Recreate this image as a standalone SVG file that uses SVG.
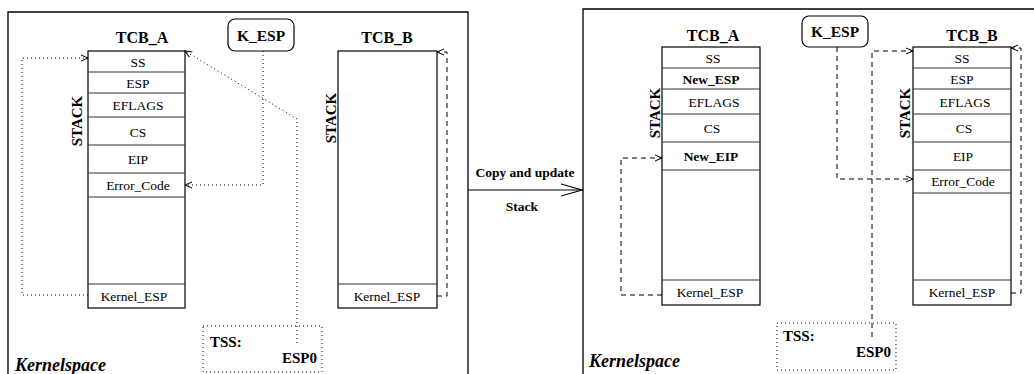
<svg xmlns="http://www.w3.org/2000/svg" width="1034" height="374" viewBox="0 0 1034 374" font-family="'Liberation Serif', 'DejaVu Serif', 'Times New Roman', serif">
<style>
text{font-family:'Liberation Serif','DejaVu Serif','Times New Roman',serif;fill:#000}
.row{font-size:13.5px;text-anchor:middle}
.rowb{font-size:13.5px;text-anchor:middle;font-weight:bold}
.title{font-size:16px;font-weight:bold;text-anchor:middle}
.stack{font-size:15px;font-weight:bold;text-anchor:middle}
.ks{font-size:18px;font-weight:bold;font-style:italic}
.tss{font-size:15px;font-weight:bold}
.box{fill:#fff;stroke:#000;stroke-width:1.2}
.sep{stroke:#333;stroke-width:1}
.frame{fill:none;stroke:#000;stroke-width:1.3}
.dot{fill:none;stroke:#000;stroke-width:1;stroke-dasharray:1,3}
.dash{fill:none;stroke:#000;stroke-width:1;stroke-dasharray:5,4}
</style>
<defs>
<marker id="h" markerWidth="10" markerHeight="10" refX="7" refY="4" orient="auto" markerUnits="userSpaceOnUse">
<path d="M0,1 L7,4 L0,7" fill="none" stroke="#000" stroke-width="1"/>
</marker>
<marker id="big" markerWidth="24" markerHeight="16" refX="21" refY="7" orient="auto" markerUnits="userSpaceOnUse">
<path d="M0,1 L21,7 L0,13" fill="none" stroke="#000" stroke-width="1.2"/>
</marker>
</defs>

<g id="frames">
<path class="frame" d="M8,374 V12 H468 V374"/>
<path class="frame" d="M583,374 V9 H1034"/>
<text class="ks" x="15" y="371">Kernelspace</text>
<text class="ks" x="589" y="367">Kernelspace</text>
</g>

<g id="left-tcb-a">
<text class="title" x="142" y="43">TCB_A</text>
<rect class="box" x="88" y="51" width="97" height="257"/>
<line class="sep" x1="88" y1="72" x2="185" y2="72"/>
<line class="sep" x1="88" y1="93" x2="185" y2="93"/>
<line class="sep" x1="88" y1="117" x2="185" y2="117"/>
<line class="sep" x1="88" y1="145" x2="185" y2="145"/>
<line class="sep" x1="88" y1="173" x2="185" y2="173"/>
<line class="sep" x1="88" y1="197" x2="185" y2="197"/>
<line class="sep" x1="88" y1="284" x2="185" y2="284"/>
<text class="row" x="138" y="67">SS</text>
<text class="row" x="138" y="88">ESP</text>
<text class="row" x="138" y="110">EFLAGS</text>
<text class="row" x="138" y="137">CS</text>
<text class="row" x="138" y="164">EIP</text>
<text class="row" x="138" y="190">Error_Code</text>
<text class="row" x="134" y="301">Kernel_ESP</text>
<text class="stack" transform="translate(82,121) rotate(-90)">STACK</text>
</g>

<g id="left-tcb-b">
<text class="title" x="387" y="43">TCB_B</text>
<rect class="box" x="338" y="51" width="99" height="257"/>
<line class="sep" x1="338" y1="284" x2="437" y2="284"/>
<text class="row" x="387" y="301">Kernel_ESP</text>
<text class="stack" transform="translate(336,118) rotate(-90)">STACK</text>
</g>

<g id="left-kesp">
<rect class="box" x="228" y="19" width="66" height="32" rx="7"/>
<text class="title" x="261" y="41" style="font-size:15.5px">K_ESP</text>
</g>

<g id="left-tss">
<rect class="dot" x="203" y="326" width="119" height="46"/>
<text class="tss" x="210" y="347">TSS:</text>
<text class="tss" x="317" y="363" text-anchor="end">ESP0</text>
</g>

<g id="right-tcb-a">
<text class="title" x="713" y="41">TCB_A</text>
<rect class="box" x="662" y="47" width="98" height="258"/>
<line class="sep" x1="662" y1="68" x2="760" y2="68"/>
<line class="sep" x1="662" y1="89" x2="760" y2="89"/>
<line class="sep" x1="662" y1="114" x2="760" y2="114"/>
<line class="sep" x1="662" y1="142" x2="760" y2="142"/>
<line class="sep" x1="662" y1="170" x2="760" y2="170"/>
<line class="sep" x1="662" y1="280" x2="760" y2="280"/>
<text class="row" x="713" y="63">SS</text>
<text class="rowb" x="711" y="84">New_ESP</text>
<text class="row" x="714" y="107">EFLAGS</text>
<text class="row" x="712" y="133">CS</text>
<text class="rowb" x="711" y="161">New_EIP</text>
<text class="row" x="710" y="297">Kernel_ESP</text>
<text class="stack" transform="translate(660,113) rotate(-90)">STACK</text>
</g>

<g id="right-tcb-b">
<text class="title" x="972" y="41">TCB_B</text>
<rect class="box" x="913" y="47" width="98" height="258"/>
<line class="sep" x1="913" y1="68" x2="1011" y2="68"/>
<line class="sep" x1="913" y1="89" x2="1011" y2="89"/>
<line class="sep" x1="913" y1="114" x2="1011" y2="114"/>
<line class="sep" x1="913" y1="142" x2="1011" y2="142"/>
<line class="sep" x1="913" y1="170" x2="1011" y2="170"/>
<line class="sep" x1="913" y1="193" x2="1011" y2="193"/>
<line class="sep" x1="913" y1="280" x2="1011" y2="280"/>
<text class="row" x="962" y="63">SS</text>
<text class="row" x="962" y="84">ESP</text>
<text class="row" x="965" y="107">EFLAGS</text>
<text class="row" x="964" y="133">CS</text>
<text class="row" x="963" y="161">EIP</text>
<text class="row" x="963" y="186">Error_Code</text>
<text class="row" x="962" y="297">Kernel_ESP</text>
<text class="stack" transform="translate(910,113) rotate(-90)">STACK</text>
</g>

<g id="right-kesp">
<rect class="box" x="802" y="16" width="66" height="31" rx="7"/>
<text class="title" x="835" y="37" style="font-size:15.5px">K_ESP</text>
</g>

<g id="right-tss">
<rect class="dot" x="777" y="323" width="119" height="47"/>
<text class="tss" x="783" y="341">TSS:</text>
<text class="tss" x="891" y="357" text-anchor="end">ESP0</text>
</g>

<g id="connectors">
<path class="dot" d="M88,295 H22 V58 H88" marker-end="url(#h)"/>
<path class="dot" d="M263,51 V185 H185" marker-end="url(#h)"/>
<path class="dot" d="M297,343 V119 L185,51" marker-end="url(#h)"/>
<path class="dash" d="M437,296 H447 V52 H437" marker-end="url(#h)"/>
<line x1="468" y1="190" x2="582" y2="190" stroke="#000" stroke-width="1.2" marker-end="url(#big)"/>
<text x="525" y="177" font-size="13.5" font-weight="bold" text-anchor="middle">Copy and update</text>
<text x="522" y="211" font-size="13.5" font-weight="bold" text-anchor="middle">Stack</text>
<path class="dash" d="M662,295 H621 V158 H662" marker-end="url(#h)"/>
<path class="dash" d="M837,47 V179 H913" marker-end="url(#h)"/>
<path class="dash" d="M872,337 V51 H913" marker-end="url(#h)"/>
<path class="dash" d="M1011,293 H1021 V48 H1011" marker-end="url(#h)"/>
</g>
</svg>
